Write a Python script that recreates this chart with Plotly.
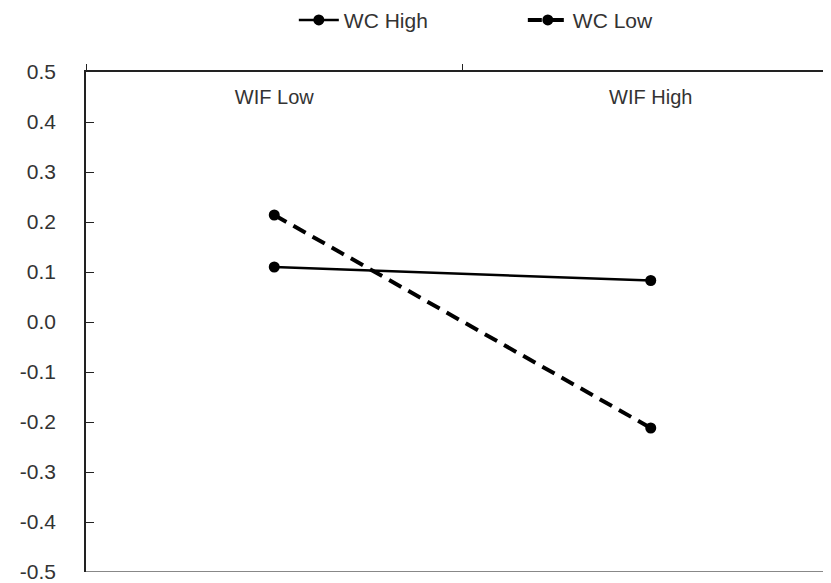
import plotly.graph_objects as go

categories = ["WIF Low", "WIF High"]
wc_high = [0.110, 0.083]
wc_low = [0.214, -0.212]
y_ticks = [0.5, 0.4, 0.3, 0.2, 0.1, 0.0, -0.1, -0.2, -0.3, -0.4, -0.5]
y_tick_text = ["0.5", "0.4", "0.3", "0.2", "0.1", "0.0", "-0.1", "-0.2", "-0.3", "-0.4", "-0.5"]

FONT = "Liberation Sans, Arial, sans-serif"

fig = go.Figure()
fig.add_trace(go.Scatter(
    x=categories, y=wc_high, name="WC High", mode="lines+markers",
    line=dict(color="black", width=2.5),
    marker=dict(symbol="circle", size=11, color="black"),
))
fig.add_trace(go.Scatter(
    x=categories, y=wc_low, name="WC Low", mode="lines+markers",
    line=dict(color="black", width=4, dash="14px,8px"),
    marker=dict(symbol="circle", size=11, color="black"),
))

fig.update_layout(
    width=831, height=583,
    margin=dict(l=78, r=0, t=64, b=19, autoexpand=False),
    paper_bgcolor="white", plot_bgcolor="white",
    font=dict(family=FONT, size=20, color="#333"),
    showlegend=True,
    legend=dict(orientation="h", x=0.276, xanchor="left", y=0.979, yref="container",
                yanchor="middle", font=dict(size=21), itemwidth=40,
                entrywidth=174, entrywidthmode="pixels", traceorder="normal"),
    xaxis=dict(
        type="category", categoryorder="array", categoryarray=categories,
        range=[-0.5, 1.5], side="top", anchor="y", automargin=False,
        showline=True, linecolor="#222", linewidth=1.5,
        ticks="outside", tickson="boundaries", ticklen=6, tickcolor="#222", tickwidth=1,
        ticklabelposition="outside", ticklabelstandoff=-42, ticklabeloverflow="allow",
        tickfont=dict(size=20),
        showgrid=False, zeroline=False,
    ),
    yaxis=dict(
        range=[-0.5, 0.5], tickvals=y_ticks, ticktext=y_tick_text, automargin=False,
        showline=True, linecolor="#222", linewidth=1.5,
        ticks="inside", ticklen=8, tickcolor="#222", tickwidth=1,
        ticklabelstandoff=24, ticklabeloverflow="allow",
        tickfont=dict(size=21),
        showgrid=False, zeroline=False,
    ),
)
fig.add_shape(type="line", xref="paper", yref="y", x0=0, x1=1, y0=-0.5, y1=-0.5,
              line=dict(color="#888", width=2), layer="below")

fig.write_html("out.html")
